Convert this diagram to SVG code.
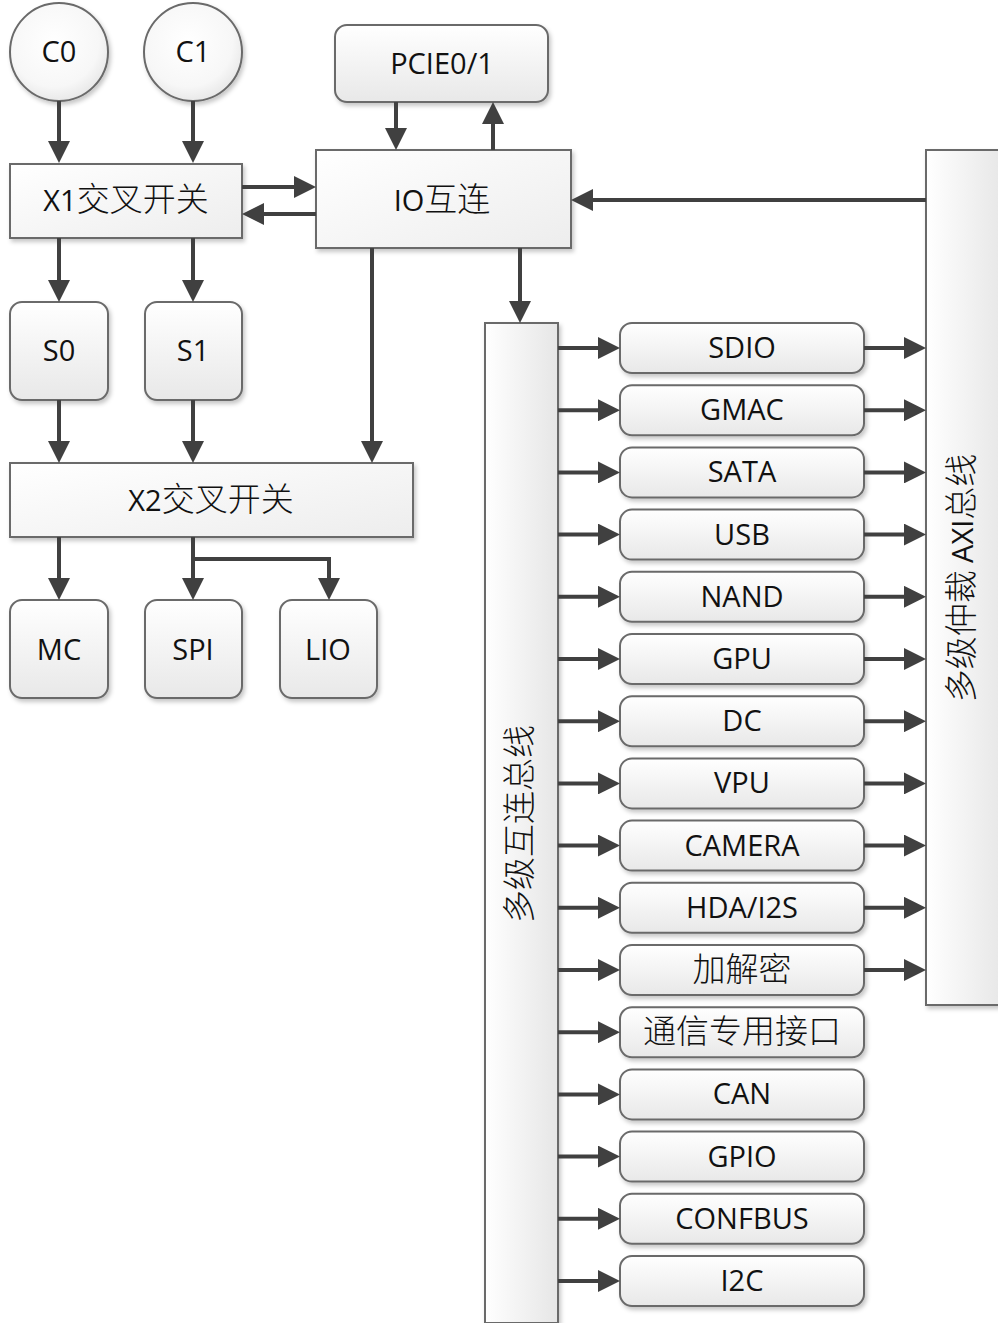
<svg xmlns="http://www.w3.org/2000/svg" width="998" height="1323" viewBox="0 0 998 1323">
<style>
.box{stroke:#6a6a6a;stroke-width:2;filter:url(#sh)}
.rb{fill:url(#gv)}
.sq{fill:url(#gs)}
.bus{fill:url(#gh)}
.t{font-family:"Open Sans","Noto Sans CJK SC",sans-serif;font-size:29px;fill:#111;text-anchor:middle}
.c{font-family:"Noto Sans CJK SC",sans-serif;font-size:33px;font-weight:300}
.ln{fill:none;stroke:#404040;stroke-width:4;marker-end:url(#ah)}
</style>
<defs>
<linearGradient id="gv" x1="0" y1="0" x2="0" y2="1"><stop offset="0" stop-color="#ffffff"/><stop offset="1" stop-color="#e8e8e8"/></linearGradient>
<linearGradient id="gs" x1="0" y1="0" x2="1" y2="1"><stop offset="0" stop-color="#ffffff"/><stop offset="1" stop-color="#ededed"/></linearGradient>
<linearGradient id="gh" x1="0" y1="0" x2="1" y2="0"><stop offset="0" stop-color="#ffffff"/><stop offset="1" stop-color="#e6e6e6"/></linearGradient>
<radialGradient id="gc" cx="0.45" cy="0.4" r="0.65"><stop offset="0" stop-color="#ffffff"/><stop offset="0.7" stop-color="#f7f7f7"/><stop offset="1" stop-color="#e4e4e4"/></radialGradient>
<filter id="sh" x="-10%" y="-10%" width="130%" height="130%"><feDropShadow dx="2" dy="3" stdDeviation="2" flood-color="#000" flood-opacity="0.22"/></filter>
<marker id="ah" markerUnits="userSpaceOnUse" markerWidth="22" markerHeight="22" refX="12" refY="11" orient="auto"><path d="M0,0 L22,11 L0,22 z" fill="#404040"/></marker>
</defs>

<g id="C0"><circle class="box" cx="59" cy="52" r="49" fill="url(#gc)"/><text class="t" x="59" y="62">C0</text></g>
<g id="C1"><circle class="box" cx="193" cy="52" r="49" fill="url(#gc)"/><text class="t" x="193" y="62">C1</text></g>
<g id="X1"><rect class="box sq" x="10" y="164" width="232" height="74"/><text class="t" x="126" y="211">X1<tspan class="c">交叉开关</tspan></text></g>
<g id="PCIE"><rect class="box rb" x="335" y="25" width="213" height="77" rx="12"/><text class="t" x="442" y="74">PCIE0/1</text></g>
<g id="IO"><rect class="box sq" x="316" y="150" width="255" height="98"/><text class="t" x="442" y="211">IO<tspan class="c">互连</tspan></text></g>
<g id="S0"><rect class="box rb" x="10" y="302" width="98" height="98" rx="12"/><text class="t" x="59" y="361">S0</text></g>
<g id="S1"><rect class="box rb" x="145" y="302" width="97" height="98" rx="12"/><text class="t" x="193" y="361">S1</text></g>
<g id="X2"><rect class="box sq" x="10" y="463" width="403" height="74"/><text class="t" x="211" y="511">X2<tspan class="c">交叉开关</tspan></text></g>
<g id="MC"><rect class="box rb" x="10" y="600" width="98" height="98" rx="12"/><text class="t" x="59" y="660">MC</text></g>
<g id="SPI"><rect class="box rb" x="145" y="600" width="97" height="98" rx="12"/><text class="t" x="193" y="660">SPI</text></g>
<g id="LIO"><rect class="box rb" x="280" y="600" width="97" height="98" rx="12"/><text class="t" x="328" y="660">LIO</text></g>

<g id="BUS"><rect class="box bus" x="485" y="323" width="73" height="1000"/><text class="t c" transform="translate(531,824) rotate(-90)">多级互连总线</text></g>
<g id="AXI"><rect class="box bus" x="926" y="150" width="80" height="855"/><text class="t" transform="translate(973,578) rotate(-90)"><tspan class="c">多级仲裁 </tspan>AXI<tspan class="c">总线</tspan></text></g>

<g id="SDIO"><rect class="box rb" x="620" y="323" width="244" height="50" rx="12"/><text class="t" x="742" y="358">SDIO</text></g>
<g id="GMAC"><rect class="box rb" x="620" y="385.2" width="244" height="50" rx="12"/><text class="t" x="742" y="420.2">GMAC</text></g>
<g id="SATA"><rect class="box rb" x="620" y="447.4" width="244" height="50" rx="12"/><text class="t" x="742" y="482.4">SATA</text></g>
<g id="USB"><rect class="box rb" x="620" y="509.6" width="244" height="50" rx="12"/><text class="t" x="742" y="544.6">USB</text></g>
<g id="NAND"><rect class="box rb" x="620" y="571.8" width="244" height="50" rx="12"/><text class="t" x="742" y="606.8">NAND</text></g>
<g id="GPU"><rect class="box rb" x="620" y="634" width="244" height="50" rx="12"/><text class="t" x="742" y="669">GPU</text></g>
<g id="DC"><rect class="box rb" x="620" y="696.2" width="244" height="50" rx="12"/><text class="t" x="742" y="731.2">DC</text></g>
<g id="VPU"><rect class="box rb" x="620" y="758.4" width="244" height="50" rx="12"/><text class="t" x="742" y="793.4">VPU</text></g>
<g id="CAMERA"><rect class="box rb" x="620" y="820.6" width="244" height="50" rx="12"/><text class="t" x="742" y="855.6">CAMERA</text></g>
<g id="HDA"><rect class="box rb" x="620" y="882.8" width="244" height="50" rx="12"/><text class="t" x="742" y="917.8">HDA/I2S</text></g>
<g id="CRYPTO"><rect class="box rb" x="620" y="945" width="244" height="50" rx="12"/><text class="t c" x="742" y="981">加解密</text></g>
<g id="COMM"><rect class="box rb" x="620" y="1007.2" width="244" height="50" rx="12"/><text class="t c" x="742" y="1043.2">通信专用接口</text></g>
<g id="CAN"><rect class="box rb" x="620" y="1069.4" width="244" height="50" rx="12"/><text class="t" x="742" y="1104.4">CAN</text></g>
<g id="GPIO"><rect class="box rb" x="620" y="1131.6" width="244" height="50" rx="12"/><text class="t" x="742" y="1166.6">GPIO</text></g>
<g id="CONFBUS"><rect class="box rb" x="620" y="1193.8" width="244" height="50" rx="12"/><text class="t" x="742" y="1228.8">CONFBUS</text></g>
<g id="I2C"><rect class="box rb" x="620" y="1256" width="244" height="50" rx="12"/><text class="t" x="742" y="1291">I2C</text></g>

<g id="connectors">
<path class="ln" d="M59,101 V153"/>
<path class="ln" d="M193,101 V153"/>
<path class="ln" d="M242,187 H306"/>
<path class="ln" d="M316,214 H252"/>
<path class="ln" d="M396,102 V140"/>
<path class="ln" d="M493,150 V112"/>
<path class="ln" d="M926,200 H581"/>
<path class="ln" d="M59,238 V292"/>
<path class="ln" d="M193,238 V292"/>
<path class="ln" d="M59,400 V453"/>
<path class="ln" d="M193,400 V453"/>
<path class="ln" d="M372,248 V453"/>
<path class="ln" d="M59,537 V590"/>
<path class="ln" d="M193,537 V590"/>
<path class="ln" d="M193,559 H329 V590"/>
<path class="ln" d="M520,248 V313"/>
<path class="ln" d="M558,348 H610"/>
<path class="ln" d="M558,410.2 H610"/>
<path class="ln" d="M558,472.4 H610"/>
<path class="ln" d="M558,534.6 H610"/>
<path class="ln" d="M558,596.8 H610"/>
<path class="ln" d="M558,659 H610"/>
<path class="ln" d="M558,721.2 H610"/>
<path class="ln" d="M558,783.4 H610"/>
<path class="ln" d="M558,845.6 H610"/>
<path class="ln" d="M558,907.8 H610"/>
<path class="ln" d="M558,970 H610"/>
<path class="ln" d="M558,1032.2 H610"/>
<path class="ln" d="M558,1094.4 H610"/>
<path class="ln" d="M558,1156.6 H610"/>
<path class="ln" d="M558,1218.8 H610"/>
<path class="ln" d="M558,1281 H610"/>
<path class="ln" d="M864,348 H916"/>
<path class="ln" d="M864,410.2 H916"/>
<path class="ln" d="M864,472.4 H916"/>
<path class="ln" d="M864,534.6 H916"/>
<path class="ln" d="M864,596.8 H916"/>
<path class="ln" d="M864,659 H916"/>
<path class="ln" d="M864,721.2 H916"/>
<path class="ln" d="M864,783.4 H916"/>
<path class="ln" d="M864,845.6 H916"/>
<path class="ln" d="M864,907.8 H916"/>
<path class="ln" d="M864,970 H916"/>
</g>
</svg>
